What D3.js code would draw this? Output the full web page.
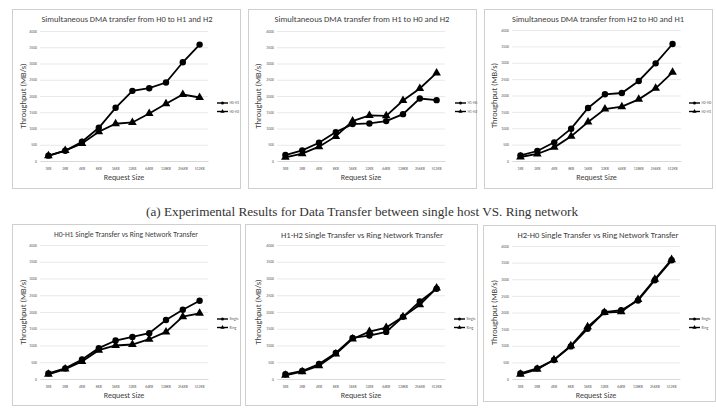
<!DOCTYPE html>
<html><head><meta charset="utf-8">
<script src="https://cdn.jsdelivr.net/npm/d3@7"></script>
<style>body{margin:0;background:#fff}svg{display:block}</style>
</head><body>
<svg id="c" width="716" height="410"></svg>
<script>
const categories = ["1KB","2KB","4KB","8KB","16KB","32KB","64KB","128KB","256KB","512KB"];
const yTicks = [0,500,1000,1500,2000,2500,3000,3500,4000];
const titles = [
  "Simultaneous DMA transfer from H0 to H1 and H2",
  "Simultaneous DMA transfer from H1 to H0 and H2",
  "Simultaneous DMA transfer from H2 to H0 and H1",
  "H0-H1 Single Transfer vs Ring Network Transfer",
  "H1-H2 Single Transfer vs Ring Network Transfer",
  "H2-H0 Single Transfer vs Ring Network Transfer"
];
const legendNames = [
  ["H0-H1","H0-H2"],["H1-H0","H1-H2"],["H2-H0","H2-H1"],
  ["Single","Ring"],["Single","Ring"],["Single","Ring"]
];
const p1Circle   = [164,317,593,1023,1637,2159,2240,2414,3038,3581];
const p1Triangle = [160,320,542,900,1146,1187,1463,1760,2046,1954];
const p2Circle   = [184,327,563,890,1136,1156,1228,1442,1923,1872];
const p2Triangle = [113,225,440,757,1228,1402,1391,1862,2230,2711];
const p3Circle   = [173,305,570,987,1618,2036,2076,2443,2982,3573];
const p3Triangle = [122,214,417,753,1191,1588,1659,1883,2219,2707];
const p4Single   = [168,317,584,921,1149,1257,1366,1762,2069,2337];
const p4Ring     = [139,297,525,861,1000,1030,1188,1406,1861,1960];
const p5Single   = [140,240,449,778,1227,1297,1406,1855,2314,2693];
const p5Ring     = [110,219,399,748,1197,1416,1536,1855,2214,2713];
const p6Single   = [170,320,570,980,1510,2010,2070,2360,2970,3570];
const p6Ring     = [140,290,580,1000,1570,2000,2020,2390,3000,3590];
const xTitle = "Request Size";
const yTitle = "Throughput (MB/s)";
const caption = "(a) Experimental Results for Data Transfer between single host VS. Ring network";

const seriesByPanel = [
  [p1Circle,p1Triangle],[p2Circle,p2Triangle],[p3Circle,p3Triangle],
  [p4Single,p4Ring],[p5Single,p5Ring],[p6Single,p6Ring]
];

// layout (positions only)
const layout = [
  {bx:12, by:9,  bw:228, bh:179, px0:40,  px1:208, py0:161, py1:31,  tx:127, ty:22,  tw:171, xl:180, yl:23,  lx:217, ly:103},
  {bx:248,by:9,  bw:228, bh:179, px0:277, px1:445, py0:161, py1:31,  tx:362, ty:22,  tw:175, xl:180, yl:258, lx:455, ly:103},
  {bx:484,by:9,  bw:228, bh:179, px0:512, px1:681, py0:161, py1:30,  tx:598, ty:22,  tw:172, xl:180, yl:494, lx:689, ly:103},
  {bx:12, by:224,bw:228, bh:181, px0:40,  px1:208, py0:379, py1:245, tx:126, ty:237, tw:144, xl:398, yl:23,  lx:217, ly:319},
  {bx:245,by:224,bw:232, bh:181, px0:277, px1:445, py0:379, py1:245, tx:362, ty:238, tw:162, xl:398, yl:258, lx:454, ly:319},
  {bx:483,by:225,bw:232, bh:176, px0:512, px1:680, py0:379, py1:246, tx:598, ty:238, tw:161, xl:398, yl:494, lx:689, ly:319}
];

const svg = d3.select("#c");
const font = "Carlito, Lato, 'Open Sans', sans-serif";
const gray = "#404040";

function marker(g, type, x, y, s) {
  if (type === 0) {
    g.append("circle").attr("cx", x).attr("cy", y).attr("r", s).attr("fill", "#000");
  } else {
    g.append("path").attr("d", d3.symbol(d3.symbolTriangle, s*s*3.4)())
      .attr("transform", `translate(${x},${y})`).attr("fill", "#000");
  }
}

layout.forEach((L, i) => {
  const g = svg.append("g");
  g.append("rect").attr("x", L.bx+0.5).attr("y", L.by+0.5).attr("width", L.bw).attr("height", L.bh)
    .attr("fill", "#fff").attr("stroke", "#cfcfcf").attr("stroke-width", 1);

  const x = d3.scaleBand().domain(categories).range([L.px0, L.px1]);
  const y = d3.scaleLinear().domain([0, 4000]).range([L.py0, L.py1]);

  const yAxis = d3.axisLeft(y).tickValues(yTicks).tickSize(-(L.px1 - L.px0)).tickPadding(3).tickFormat(d3.format("d"));
  const ga = g.append("g").attr("transform", `translate(${L.px0},0)`).call(yAxis);
  ga.select(".domain").remove();
  ga.selectAll(".tick line").attr("stroke", "#e3e3e3").attr("stroke-width", 0.8);
  ga.selectAll(".tick text").attr("fill", "#595959").attr("font-size", 3.8).attr("font-family", font);

  const xAxis = d3.axisBottom(x).tickSize(0).tickPadding(6);
  const gx = g.append("g").attr("transform", `translate(0,${L.py0})`).call(xAxis);
  gx.select(".domain").attr("stroke", "#d9d9d9");
  gx.selectAll(".tick text").attr("fill", "#595959").attr("font-size", 3.8).attr("font-family", font);

  g.append("text").attr("x", L.tx).attr("y", L.ty).attr("text-anchor", "middle")
    .attr("font-family", font).attr("font-size", 8.4).attr("fill", gray)
    .attr("textLength", L.tw).attr("lengthAdjust", "spacingAndGlyphs").text(titles[i]);
  g.append("text").attr("x", (L.px0 + L.px1) / 2).attr("y", L.xl).attr("text-anchor", "middle")
    .attr("font-family", font).attr("font-size", 8).attr("fill", gray).text(xTitle);
  g.append("text").attr("transform", `translate(${L.yl},${(L.py0 + L.py1) / 2}) rotate(-90)`)
    .attr("text-anchor", "middle").attr("dy", "0.35em")
    .attr("font-family", font).attr("font-size", 8.4).attr("fill", gray).text(yTitle);

  const line = d3.line().x((d, j) => x(categories[j]) + x.bandwidth() / 2).y(d => y(d));
  seriesByPanel[i].forEach((vals, k) => {
    g.append("path").datum(vals).attr("d", line).attr("fill", "none")
      .attr("stroke", "#000").attr("stroke-width", 1.8);
    vals.forEach((v, j) => marker(g, k, x(categories[j]) + x.bandwidth() / 2, y(v), k === 0 ? 3.2 : 3.1));
  });

  legendNames[i].forEach((name, k) => {
    const ly = L.ly + k * 8.5;
    g.append("line").attr("x1", L.lx).attr("x2", L.lx + 11).attr("y1", ly).attr("y2", ly)
      .attr("stroke", "#000").attr("stroke-width", 1.4);
    marker(g, k, L.lx + 5.5, ly, 1.5);
    g.append("text").attr("x", L.lx + 12.5).attr("y", ly).attr("dy", "0.35em")
      .attr("font-family", font).attr("font-size", 3.8).attr("fill", "#595959").text(name);
  });
});

svg.append("text").attr("x", 362).attr("y", 216).attr("text-anchor", "middle")
  .attr("font-family", "'Liberation Serif', 'DejaVu Serif', serif").attr("font-size", 12.5)
  .attr("fill", "#333").attr("textLength", 432).attr("lengthAdjust", "spacingAndGlyphs")
  .text(caption);
</script>
</body></html>
